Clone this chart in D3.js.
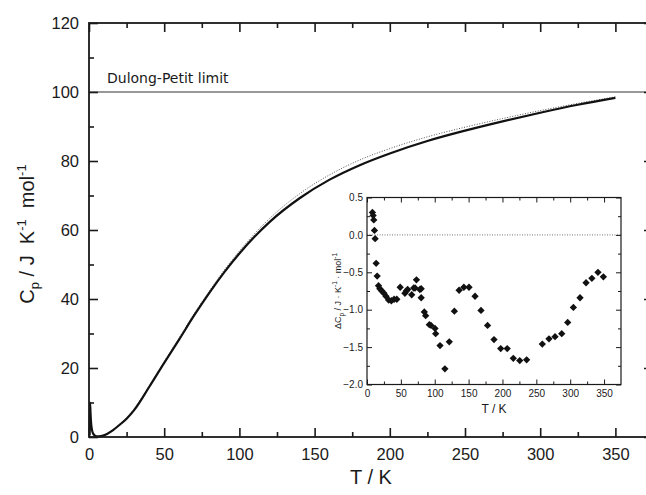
<!DOCTYPE html>
<html>
<head>
<meta charset="utf-8">
<script src="https://cdn.jsdelivr.net/npm/d3@7"></script>
<style>
  body { margin: 0; background: #fff; }
  svg  { display: block; font-family: "Liberation Sans", Arial, sans-serif; }
</style>
</head>
<body>
<svg id="chart" width="646" height="495"></svg>
<script>
// ── Data ──────────────────────────────────────────────────────────────────────

// measured heat capacity, solid line (the spike below 2 K is the low-T anomaly)
const tempMeasured = [0.4, 0.7, 1.0, 1.4, 2, 3, 5, 8, 12, 16, 20, 25, 30, 40, 50, 60, 70, 80, 90, 100,
                      120, 140, 160, 180, 200, 225, 250, 275, 300, 325, 350];
const cpMeasured   = [0.5, 10, 7, 4, 2, 0.8, 0.2, 0.3, 0.9, 2.0, 3.4, 5.3, 7.8, 14.5, 21.5, 28.3, 35.3, 41.8, 47.8, 53.2,
                      62.3, 69.2, 74.6, 78.8, 82.2, 85.8, 88.8, 91.5, 94.0, 96.3, 98.3];

// calculated heat capacity, dotted line
const tempCalc = [0, 5, 10, 20, 30, 40, 50, 60, 70, 80, 90, 100, 120, 140, 160, 180, 200, 225, 250, 275, 300, 325, 350];
const cpCalc   = [0, 0.1, 0.6, 3.6, 8.2, 14.8, 21.8, 28.8, 35.8, 42.3, 48.4, 53.9, 63.3, 70.5, 76.0, 80.3, 83.6, 87.0,
                  89.8, 92.3, 94.6, 96.7, 98.6];

const dulongPetit = 100;

// inset: difference measured − calculated
const insetTemp = [8, 9, 10, 11, 12, 13.5, 15, 17, 19, 22, 25, 28, 32, 36, 40, 44, 49, 56, 58, 60, 66, 69, 71, 73,
                   78, 80, 80, 84.6, 86.6, 92, 94.5, 100.4, 101.4, 107.8, 115, 121.5, 129, 136, 143, 150.6, 159.5,
                   168.3, 178, 187.5, 197.4, 207, 216, 225.5, 235.7, 258.8, 268.7, 277.6, 287.5, 296.3, 304.7,
                   314.5, 323.4, 332, 341, 349];
const insetDeltaCp = [0.30, 0.26, 0.20, 0.06, -0.05, -0.38, -0.55, -0.68, -0.72, -0.75, -0.78, -0.82, -0.87, -0.88,
                      -0.86, -0.86, -0.70, -0.78, -0.75, -0.73, -0.80, -0.71, -0.71, -0.60, -0.73, -0.72, -0.84,
                      -1.03, -1.08, -1.20, -1.21, -1.25, -1.32, -1.48, -1.79, -1.43, -1.02, -0.74, -0.70, -0.70,
                      -0.82, -1.01, -1.21, -1.40, -1.52, -1.52, -1.65, -1.68, -1.67, -1.46, -1.39, -1.36, -1.32,
                      -1.17, -0.97, -0.84, -0.64, -0.58, -0.50, -0.56];

// ticks
const mainXTicks  = [0, 50, 100, 150, 200, 250, 300, 350];
const mainXMinor  = [25, 75, 125, 175, 225, 275, 325, 375];
const mainYTicks  = [0, 20, 40, 60, 80, 100, 120];
const mainYMinor  = [10, 30, 50, 70, 90, 110];
const insetXTicks = [0, 50, 100, 150, 200, 250, 300, 350];
const insetXMinor = [25, 75, 125, 175, 225, 275, 325];
const insetYTicks = [0.5, 0.0, -0.5, -1.0, -1.5, -2.0];
const insetYMinor = [0.25, -0.25, -0.75, -1.25, -1.75];

const INK = '#1a1a1a';

// ── Helpers ───────────────────────────────────────────────────────────────────

// inward ticks on all four sides; labels only on bottom/left
function drawFrame(g, x, y, o) {
  const [x0, x1] = x.range(), [y0, y1] = y.range();   // y0 = bottom, y1 = top

  const xAxes = [
    [d3.axisBottom(x).tickValues(o.xTicks).tickFormat(o.xFmt), y0, o.major, o.xPad],
    [d3.axisBottom(x).tickValues(o.xMinor).tickFormat(''),     y0, o.minor, 0],
    [d3.axisTop(x).tickValues(o.xTicks).tickFormat(''),        y1, o.major, 0],
    [d3.axisTop(x).tickValues(o.xMinor).tickFormat(''),        y1, o.minor, 0],
  ];
  xAxes.forEach(([ax, ty, len, pad]) => {
    const a = g.append('g').attr('transform', `translate(0,${ty})`)
      .call(ax.tickSize(-len).tickPadding(pad));
    a.select('.domain').remove();
    a.selectAll('line').attr('stroke', INK).attr('stroke-width', o.tickW);
    a.selectAll('text').attr('fill', INK).attr('font-size', o.font)
      .attr('font-family', '"Liberation Sans", Arial, sans-serif');
  });

  const yAxes = [
    [d3.axisLeft(y).tickValues(o.yTicks).tickFormat(o.yFmt), x0, o.major, o.yPad],
    [d3.axisLeft(y).tickValues(o.yMinor).tickFormat(''),     x0, o.minor, 0],
    [d3.axisRight(y).tickValues(o.yTicks).tickFormat(''),    x1, o.major, 0],
    [d3.axisRight(y).tickValues(o.yMinor).tickFormat(''),    x1, o.minor, 0],
  ];
  yAxes.forEach(([ax, tx, len, pad]) => {
    const a = g.append('g').attr('transform', `translate(${tx},0)`)
      .call(ax.tickSize(-len).tickPadding(pad));
    a.select('.domain').remove();
    a.selectAll('line').attr('stroke', INK).attr('stroke-width', o.tickW);
    a.selectAll('text').attr('fill', INK).attr('font-size', o.font)
      .attr('font-family', '"Liberation Sans", Arial, sans-serif');
  });

  g.append('rect')
    .attr('x', x0).attr('y', y1)
    .attr('width', x1 - x0).attr('height', y0 - y1)
    .attr('fill', 'none').attr('stroke', INK).attr('stroke-width', o.frameW);
}

// ── Main plot ─────────────────────────────────────────────────────────────────

const svg = d3.select('#chart');

const x = d3.scaleLinear().domain([0, 375]).range([89, 653]);
const y = d3.scaleLinear().domain([0, 120]).range([437, 23]);

const main = svg.append('g');

// Dulong-Petit line + label
main.append('line')
  .attr('x1', x(0)).attr('x2', x(375))
  .attr('y1', y(dulongPetit)).attr('y2', y(dulongPetit))
  .attr('stroke', '#333').attr('stroke-width', 1.1);
main.append('text')
  .attr('x', 107).attr('y', y(dulongPetit) - 9)
  .attr('font-family', '"DejaVu Sans", Verdana, sans-serif')
  .attr('font-size', 14).attr('fill', INK)
  .text('Dulong-Petit limit');

const line = d3.line().x(d => x(d[0])).y(d => y(d[1])).curve(d3.curveMonotoneX);

main.append('path')
  .datum(d3.zip(tempCalc, cpCalc))
  .attr('d', line)
  .attr('fill', 'none').attr('stroke', '#555')
  .attr('stroke-width', 1).attr('stroke-dasharray', '1,1.6');

main.append('path')
  .datum(d3.zip(tempMeasured, cpMeasured))
  .attr('d', line)
  .attr('fill', 'none').attr('stroke', '#111')
  .attr('stroke-width', 2.2).attr('stroke-linejoin', 'round');

drawFrame(main, x, y, {
  xTicks: mainXTicks, xMinor: mainXMinor, yTicks: mainYTicks, yMinor: mainYMinor,
  xFmt: d3.format('d'), yFmt: d3.format('d'),
  major: 9, minor: 5, xPad: 11, yPad: 10, font: 16.5, tickW: 1.6, frameW: 1.8,
});

// axis titles
main.append('text')
  .attr('x', x(187.5)).attr('y', 484)
  .attr('text-anchor', 'middle').attr('font-size', 20).attr('fill', INK)
  .text('T / K');

const yTitle = main.append('text')
  .attr('transform', `translate(34,234) rotate(-90)`)
  .attr('text-anchor', 'middle').attr('font-size', 20).attr('fill', INK)
  .attr('xml:space', 'preserve');
yTitle.append('tspan').text('C');
yTitle.append('tspan').attr('font-size', 13).attr('dy', 5).text('p');
yTitle.append('tspan').attr('dy', -5).text(' / J  K');
yTitle.append('tspan').attr('font-size', 13).attr('dy', -8).text('-1');
yTitle.append('tspan').attr('dy', 8).text('  mol');
yTitle.append('tspan').attr('font-size', 13).attr('dy', -8).text('-1');

// ── Inset ─────────────────────────────────────────────────────────────────────

const ix = d3.scaleLinear().domain([0, 375]).range([367, 621]);
const iy = d3.scaleLinear().domain([-2.0, 0.5]).range([384.5, 197.5]);

const inset = svg.append('g');

inset.append('rect')
  .attr('x', 367).attr('y', 197.5).attr('width', 254).attr('height', 187)
  .attr('fill', '#fff');

inset.append('line')
  .attr('x1', ix(0)).attr('x2', ix(375))
  .attr('y1', iy(0)).attr('y2', iy(0))
  .attr('stroke', '#666').attr('stroke-width', 0.9).attr('stroke-dasharray', '1,1.5');

inset.selectAll('path.pt')
  .data(d3.zip(insetTemp, insetDeltaCp))
  .enter().append('path')
  .attr('class', 'pt')
  .attr('transform', d => `translate(${ix(d[0])},${iy(d[1])})`)
  .attr('d', d3.symbol(d3.symbolDiamond2, 34))
  .attr('fill', '#111');

drawFrame(inset, ix, iy, {
  xTicks: insetXTicks, xMinor: insetXMinor, yTicks: insetYTicks, yMinor: insetYMinor,
  xFmt: d3.format('d'), yFmt: d3.format('.1f'),
  major: 5, minor: 3, xPad: 5, yPad: 4, font: 10, tickW: 1, frameW: 1.2,
});

inset.append('text')
  .attr('x', ix(187.5)).attr('y', 413)
  .attr('text-anchor', 'middle').attr('font-size', 12).attr('fill', INK)
  .text('T / K');

const iTitle = inset.append('text')
  .attr('transform', `translate(341,${(iy(-2) + iy(0.5)) / 2}) rotate(-90)`)
  .attr('text-anchor', 'middle').attr('font-size', 9).attr('fill', INK);
iTitle.append('tspan').text('ΔC');
iTitle.append('tspan').attr('font-size', 6.5).attr('dy', 2.5).text('p');
iTitle.append('tspan').attr('dy', -2.5).text(' / J · K');
iTitle.append('tspan').attr('font-size', 6.5).attr('dy', -4).text('-1');
iTitle.append('tspan').attr('dy', 4).text(' · mol');
iTitle.append('tspan').attr('font-size', 6.5).attr('dy', -4).text('-1');
</script>
</body>
</html>
